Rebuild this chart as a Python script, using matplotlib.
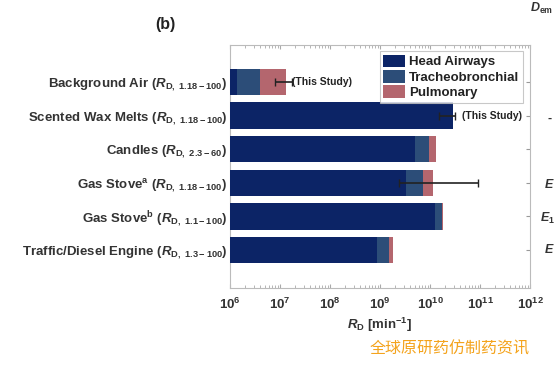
import numpy as np
import matplotlib.pyplot as plt

plt.rcParams['font.family'] = ['Liberation Sans', 'DejaVu Sans']
plt.rcParams['mathtext.fontset'] = 'custom'
plt.rcParams['mathtext.rm'] = 'Liberation Sans:bold'
plt.rcParams['mathtext.it'] = 'Liberation Sans:italic:bold'
plt.rcParams['mathtext.bf'] = 'Liberation Sans:bold'

sources = [
    r"Background Air ($R_{\mathrm{D,\ 1.18-100}}$)",
    r"Scented Wax Melts ($R_{\mathrm{D,\ 1.18-100}}$)",
    r"Candles ($R_{\mathrm{D,\ 2.3-60}}$)",
    r"Gas Stove$^{\mathrm{a}}$ ($R_{\mathrm{D,\ 1.18-100}}$)",
    r"Gas Stove$^{\mathrm{b}}$ ($R_{\mathrm{D,\ 1.1-100}}$)",
    r"Traffic/Diesel Engine ($R_{\mathrm{D,\ 1.3-100}}$)",
]
# cumulative ends of each region (min^-1)
head = [1.4e6, 2.9e10, 5.0e9, 3.3e9, 1.26e10, 8.6e8]
tracheo = [3.9e6, 2.9e10, 9.7e9, 7.4e9, 1.77e10, 1.51e9]
pulm = [1.3e7, 2.9e10, 1.32e10, 1.17e10, 1.8e10, 1.85e9]
# error bars
err_rows = [0, 1, 3]
err_mid = [1.3e7, 2.9e10, 1.17e10]
err_lo = [7.9e6, 1.5e10, 2.4e9]
err_hi = [1.7e7, 3.2e10, 9.3e10]

c_head = '#0c2466'
c_tb = '#2c4d78'
c_pul = '#b4666e'

fig = plt.figure(figsize=(5.54, 3.65), dpi=100)
ax = fig.add_axes([230 / 554, 1 - 288 / 365, 300 / 554, 243 / 365])

y = np.arange(len(sources))
h = 0.78
base = 1e6
ax.barh(y, np.array(pulm) - base, left=base, height=h, color=c_pul, label='Pulmonary', zorder=2)
ax.barh(y, np.array(tracheo) - base, left=base, height=h, color=c_tb, label='Tracheobronchial', zorder=3)
ax.barh(y, np.array(head) - base, left=base, height=h, color=c_head, label='Head Airways', zorder=4)

mid = np.array(err_mid)
xerr = [mid - np.array(err_lo), np.array(err_hi) - mid]
ax.errorbar(mid, y[err_rows], xerr=xerr, fmt='none', ecolor='#222222',
            elinewidth=1.2, capsize=3, capthick=1.0, zorder=6)

ax.text(1.75e7, 0, '(This Study)', fontsize=7.5, va='center', color='#222222', fontweight='bold')
ax.text(4.4e10, 1, '(This Study)', fontsize=7.5, va='center', color='#222222', fontweight='bold')

ax.set_xscale('log')
ax.set_xlim(1e6, 1e12)
ax.set_ylim(len(sources) - 1 + 1.13, -1.1)
ax.set_yticks(y)
ax.set_yticklabels(sources, fontsize=9.5, fontweight='bold', color='#333333')
ax.set_xticks([1e6, 1e7, 1e8, 1e9, 1e10, 1e11, 1e12])
ax.tick_params(axis='x', labelsize=9.5, colors='#333333', direction='in', top=True, which='both', pad=6)
ax.tick_params(axis='y', direction='in', right=True, left=True, length=3, colors='#999999',
               labelcolor='#333333', pad=2)
ax.tick_params(axis='x', which='minor', length=2, color='#aaaaaa')
ax.tick_params(axis='x', which='major', length=3, color='#aaaaaa')
for lab in ax.get_xticklabels():
    lab.set_fontweight('bold')
for s in ax.spines.values():
    s.set_color('#bbbbbb')
    s.set_linewidth(0.8)
ax.set_xlabel(r'$R_\mathrm{D}$ [min$^{\mathrm{-1}}$]', fontsize=9.5, fontweight='bold', color='#333333', labelpad=3)

handles, labels = ax.get_legend_handles_labels()
order = [2, 1, 0]
leg = ax.legend([handles[i] for i in order], [labels[i] for i in order],
                loc='upper right', bbox_to_anchor=(0.985, 0.985), fontsize=9.5,
                frameon=True, fancybox=False, edgecolor='#bbbbbb',
                handlelength=1.7, handleheight=1.1, handletextpad=0.3,
                labelspacing=0.12, borderpad=0.25, borderaxespad=0.2)
for t in leg.get_texts():
    t.set_fontweight('bold')
    t.set_color('#222222')
leg.get_frame().set_linewidth(0.8)

fig.text(165 / 554, 1 - 25 / 365, '(b)', fontsize=11.5, fontweight='bold', color='#222222', va='center', ha='center')

# fragments of neighbouring panel
fig.text(545 / 554, 1 - 185 / 365, 'E', fontsize=9, fontstyle='italic', fontweight='bold', color='#333333', va='center')
fig.text(540 / 554, 1 - 218 / 365, r'$E_1$', fontsize=9, color='#333333', va='center')
fig.text(545 / 554, 1 - 250 / 365, 'E', fontsize=9, fontstyle='italic', fontweight='bold', color='#333333', va='center')
fig.text(548 / 554, 1 - 119 / 365, '-', fontsize=9, fontweight='bold', color='#333333', va='center')
fig.text(530 / 554, 1 - 8 / 365, r'$D_{\mathrm{em}}$', fontsize=9, color='#333333', va='center')

fig.text(450 / 554, 1 - 349 / 365, '全球原研药仿制药资讯', fontsize=11.5, color='#f4a31c',
         ha='center', va='center', family=['Noto Sans CJK SC', 'DejaVu Sans'])

fig.savefig('out.png', dpi=100)
